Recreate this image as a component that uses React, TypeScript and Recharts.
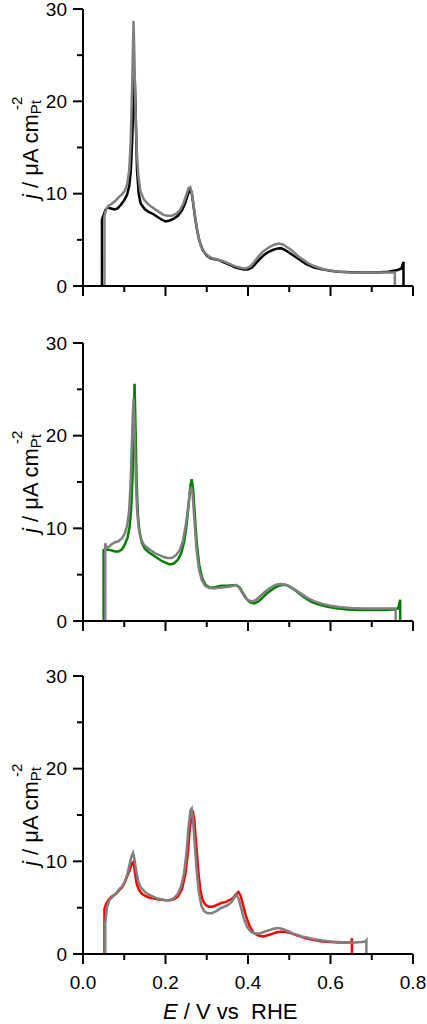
import React from 'react';
import { LineChart, Line, XAxis, YAxis } from 'recharts';

const FONT = '"Liberation Sans", Arial, Helvetica, sans-serif';

const xTicks = [0, 0.1, 0.2, 0.3, 0.4, 0.5, 0.6, 0.7, 0.8];
const yTicks = [0, 5, 10, 15, 20, 25, 30];

// [E (V vs RHE), j (µA cm-2)]
const panel1Black: [number, number][] = [
  [0.046, 0], [0.046, 7.2], [0.05, 7.7], [0.055, 8.3], [0.06, 8.5], [0.068, 8.4], [0.076, 8.3], [0.084, 8.4],
  [0.092, 8.8], [0.1, 9.3], [0.107, 9.9], [0.112, 10.8], [0.116, 12.5], [0.119, 15.5], [0.122, 19.5], [0.125, 23.2],
  [0.128, 18], [0.131, 12.5], [0.135, 10], [0.14, 8.9], [0.15, 8.3], [0.16, 8], [0.17, 7.8], [0.18, 7.5], [0.19, 7.2],
  [0.2, 7], [0.21, 7.1], [0.22, 7.3], [0.23, 7.6], [0.24, 8.2], [0.248, 9], [0.254, 9.9], [0.259, 10.4], [0.263, 10.2],
  [0.267, 9], [0.271, 7.6], [0.276, 6.2], [0.282, 4.9], [0.29, 3.9], [0.3, 3.3], [0.31, 3], [0.32, 2.9], [0.33, 2.8],
  [0.34, 2.6], [0.35, 2.4], [0.36, 2.2], [0.37, 2], [0.38, 1.9], [0.39, 1.8], [0.4, 1.8], [0.41, 2], [0.42, 2.5],
  [0.43, 3], [0.44, 3.4], [0.45, 3.7], [0.46, 3.9], [0.47, 4.05], [0.48, 4.1], [0.49, 3.9], [0.5, 3.6], [0.51, 3.3],
  [0.52, 3], [0.53, 2.7], [0.54, 2.4], [0.55, 2.2], [0.56, 2], [0.58, 1.8], [0.6, 1.65], [0.62, 1.55], [0.65, 1.5],
  [0.68, 1.45], [0.7, 1.45], [0.72, 1.5], [0.74, 1.55], [0.76, 1.7], [0.772, 1.9], [0.777, 2.6], [0.777, 0],
];

const panel1Gray: [number, number][] = [
  [0.052, 0], [0.052, 7.6], [0.056, 8.3], [0.062, 8.7], [0.07, 8.9], [0.078, 9.2], [0.086, 9.6], [0.094, 9.9],
  [0.101, 10.3], [0.107, 11], [0.112, 12.5], [0.1155, 15.5], [0.118, 19.5], [0.1205, 24.5], [0.1225, 28.7],
  [0.1245, 25], [0.127, 19.5], [0.13, 15], [0.134, 12], [0.139, 10.3], [0.147, 9.4], [0.155, 9], [0.165, 8.6],
  [0.175, 8.3], [0.185, 8], [0.195, 7.7], [0.205, 7.6], [0.215, 7.6], [0.225, 7.8], [0.235, 8.2], [0.243, 8.9],
  [0.25, 9.8], [0.256, 10.6], [0.26, 10.7], [0.264, 10.1], [0.268, 8.8], [0.273, 7.2], [0.279, 5.5], [0.286, 4.3],
  [0.295, 3.6], [0.305, 3.2], [0.315, 3], [0.325, 2.9], [0.335, 2.75], [0.345, 2.6], [0.355, 2.4], [0.365, 2.2],
  [0.375, 2.05], [0.385, 1.95], [0.395, 1.9], [0.405, 2.1], [0.415, 2.6], [0.425, 3.2], [0.435, 3.7], [0.445, 4],
  [0.455, 4.3], [0.465, 4.5], [0.475, 4.6], [0.485, 4.5], [0.495, 4.2], [0.505, 3.9], [0.515, 3.5], [0.525, 3.1],
  [0.535, 2.8], [0.545, 2.5], [0.555, 2.25], [0.57, 2], [0.59, 1.75], [0.61, 1.6], [0.64, 1.5], [0.67, 1.45],
  [0.7, 1.45], [0.73, 1.45], [0.756, 1.45], [0.756, 0],
];

const panel2Green: [number, number][] = [
  [0.05, 0], [0.05, 7.65], [0.055, 7.7], [0.062, 7.7], [0.07, 7.6], [0.078, 7.5], [0.086, 7.5], [0.094, 7.7],
  [0.101, 8.2], [0.108, 9], [0.113, 10.2], [0.117, 12.2], [0.12, 15.5], [0.1225, 20], [0.125, 25.6], [0.1275, 20.5],
  [0.13, 15], [0.133, 11.5], [0.137, 9.6], [0.143, 8.4], [0.15, 7.8], [0.16, 7.4], [0.17, 7.1], [0.18, 6.8],
  [0.19, 6.5], [0.2, 6.3], [0.21, 6.1], [0.22, 6.2], [0.23, 6.6], [0.238, 7.3], [0.245, 8.5], [0.251, 10.3],
  [0.256, 12.5], [0.26, 14.5], [0.2635, 15.3], [0.267, 14.2], [0.271, 11.5], [0.276, 8.3], [0.282, 6], [0.289, 4.6],
  [0.297, 3.9], [0.307, 3.6], [0.32, 3.65], [0.335, 3.8], [0.35, 3.8], [0.362, 3.85], [0.372, 3.85], [0.38, 3.6],
  [0.388, 3], [0.396, 2.4], [0.405, 2], [0.415, 1.9], [0.425, 2.1], [0.435, 2.5], [0.445, 2.95], [0.455, 3.3],
  [0.465, 3.6], [0.475, 3.8], [0.485, 3.9], [0.495, 3.85], [0.505, 3.6], [0.515, 3.3], [0.525, 2.95], [0.535, 2.6],
  [0.545, 2.3], [0.555, 2.05], [0.57, 1.8], [0.59, 1.55], [0.61, 1.4], [0.64, 1.25], [0.67, 1.2], [0.7, 1.2],
  [0.73, 1.2], [0.755, 1.25], [0.764, 1.35], [0.769, 2.3], [0.769, 0],
];

const panel2Gray: [number, number][] = [
  [0.054, 0], [0.054, 8.4], [0.057, 7.9], [0.062, 8], [0.07, 8.3], [0.078, 8.5], [0.086, 8.6], [0.094, 8.9],
  [0.101, 9.4], [0.107, 10.3], [0.112, 12], [0.1155, 15], [0.118, 18.5], [0.1205, 22], [0.1227, 24], [0.125, 21],
  [0.128, 15.5], [0.131, 12], [0.135, 10], [0.141, 8.8], [0.148, 8.2], [0.156, 7.9], [0.165, 7.6], [0.175, 7.3],
  [0.185, 7.1], [0.195, 6.9], [0.205, 6.8], [0.215, 6.8], [0.225, 7.1], [0.234, 7.6], [0.242, 8.6], [0.249, 10.3],
  [0.254, 12], [0.2585, 13.8], [0.2625, 14.5], [0.266, 13.5], [0.27, 11], [0.275, 7.8], [0.281, 5.6], [0.288, 4.4],
  [0.296, 3.8], [0.306, 3.55], [0.318, 3.5], [0.33, 3.6], [0.342, 3.65], [0.354, 3.7], [0.364, 3.8], [0.371, 3.9],
  [0.377, 3.7], [0.384, 3.2], [0.392, 2.6], [0.4, 2.25], [0.41, 2.1], [0.42, 2.3], [0.43, 2.7], [0.44, 3.1],
  [0.45, 3.45], [0.46, 3.75], [0.47, 3.95], [0.48, 4], [0.49, 3.95], [0.5, 3.75], [0.51, 3.5], [0.52, 3.2],
  [0.53, 2.9], [0.54, 2.6], [0.55, 2.35], [0.56, 2.15], [0.58, 1.85], [0.6, 1.65], [0.62, 1.5], [0.65, 1.4],
  [0.68, 1.35], [0.71, 1.35], [0.74, 1.35], [0.758, 1.35], [0.758, 0],
];

const panel3Red: [number, number][] = [
  [0.052, 0], [0.052, 4.9], [0.056, 5.4], [0.063, 5.9], [0.07, 6.2], [0.08, 6.5], [0.088, 6.9], [0.095, 7.2],
  [0.102, 7.8], [0.108, 8.5], [0.114, 9.2], [0.119, 9.8], [0.1225, 9.95], [0.126, 8.8], [0.13, 7.6], [0.136, 6.9],
  [0.143, 6.5], [0.15, 6.3], [0.16, 6.1], [0.17, 6], [0.18, 5.9], [0.19, 5.85], [0.2, 5.8], [0.21, 5.8], [0.22, 5.9],
  [0.23, 6.2], [0.24, 7], [0.248, 8.6], [0.254, 10.8], [0.259, 13.5], [0.263, 15], [0.266, 15.5], [0.27, 14.4],
  [0.275, 11.5], [0.28, 8.7], [0.285, 6.8], [0.29, 5.8], [0.297, 5.3], [0.305, 5.1], [0.315, 5.1], [0.325, 5.3],
  [0.335, 5.5], [0.345, 5.6], [0.355, 5.8], [0.363, 6], [0.37, 6.4], [0.377, 6.7], [0.382, 6.3], [0.388, 5.3],
  [0.395, 4.1], [0.403, 3.1], [0.413, 2.3], [0.425, 2], [0.437, 1.9], [0.45, 2.05], [0.46, 2.2], [0.47, 2.35],
  [0.48, 2.4], [0.49, 2.4], [0.5, 2.3], [0.51, 2.15], [0.52, 2], [0.53, 1.85], [0.54, 1.7], [0.56, 1.5], [0.58, 1.35],
  [0.6, 1.3], [0.62, 1.25], [0.64, 1.25], [0.651, 1.3], [0.652, 1.7], [0.652, 0],
];

const panel3Gray: [number, number][] = [
  [0.054, 0], [0.054, 3.3], [0.058, 5], [0.064, 5.8], [0.072, 6.2], [0.08, 6.5], [0.088, 7], [0.095, 7.3],
  [0.102, 7.9], [0.108, 8.7], [0.113, 9.7], [0.118, 10.6], [0.1215, 10.9], [0.125, 10.2], [0.129, 9], [0.134, 7.8],
  [0.14, 7.2], [0.15, 6.7], [0.16, 6.4], [0.17, 6.2], [0.18, 6], [0.19, 5.9], [0.2, 5.8], [0.21, 5.8], [0.22, 6],
  [0.23, 6.5], [0.238, 7.3], [0.245, 8.7], [0.251, 11], [0.256, 13.8], [0.2605, 15.5], [0.2635, 15.7], [0.267, 14.2],
  [0.271, 11.8], [0.276, 8.8], [0.281, 6.6], [0.287, 5.2], [0.294, 4.6], [0.302, 4.4], [0.312, 4.4], [0.322, 4.6],
  [0.332, 4.9], [0.342, 5.1], [0.352, 5.3], [0.36, 5.6], [0.367, 6.1], [0.372, 6.4], [0.377, 6], [0.383, 5],
  [0.39, 3.8], [0.398, 2.9], [0.407, 2.4], [0.417, 2.2], [0.43, 2.25], [0.44, 2.4], [0.45, 2.55], [0.46, 2.7],
  [0.47, 2.8], [0.48, 2.75], [0.49, 2.6], [0.5, 2.4], [0.51, 2.2], [0.52, 2.05], [0.53, 1.9], [0.54, 1.8], [0.56, 1.6],
  [0.58, 1.45], [0.6, 1.35], [0.62, 1.3], [0.64, 1.25], [0.66, 1.25], [0.675, 1.3], [0.684, 1.35], [0.687, 1.5],
  [0.687, 0],
];

const toRows = (pts: [number, number][]) => pts.map(([E, j]) => ({ E, j }));

const XTick = (showLabel: boolean) => (props: any) => {
  const { x, y, payload } = props;
  const v = payload.value as number;
  const major = Math.round(v * 10) % 2 === 0;
  return (
    <g>
      <line x1={x} y1={y} x2={x} y2={y + (major ? 10 : 6)} stroke="#000" strokeWidth={2} />
      {showLabel && major ? (
        <text x={x} y={y + 35} textAnchor="middle" fontFamily={FONT} fontSize={19} fill="#000">
          {v.toFixed(1)}
        </text>
      ) : null}
    </g>
  );
};

const YTick = (props: any) => {
  const { x, y, payload } = props;
  const v = payload.value as number;
  const major = v % 10 === 0;
  return (
    <g>
      <line x1={x} y1={y} x2={x - (major ? 10 : 6)} y2={y} stroke="#000" strokeWidth={2} />
      {major ? (
        <text x={x - 16} y={y + 6.5} textAnchor="end" fontFamily={FONT} fontSize={19} fill="#000">
          {v}
        </text>
      ) : null}
    </g>
  );
};

const YTitle = (top: number) => () => (
  <text transform={`translate(38, ${top + 190}) rotate(-90)`} fontFamily={FONT} fontSize={22} fill="#000">
    <tspan fontStyle="italic">j</tspan>
    <tspan>{' / \u03BCA cm'}</tspan>
    <tspan fontSize={15} dy={3}>Pt</tspan>
    <tspan fontSize={15} dx={-10} dy={-19}>-2</tspan>
  </text>
);

const XTitle = (axisY: number) => () => (
  <text x={163} y={axisY + 65} fontFamily={FONT} fontSize={22} fill="#000">
    <tspan fontStyle="italic">E</tspan>
    <tspan>{' / V vs\u00A0 RHE'}</tspan>
  </text>
);

type Series = { name: string; pts: [number, number][]; color: string };

function Panel(props: { height: number; top: number; axisH: number; series: Series[]; showX: boolean }) {
  const { height, top, axisH, series, showX } = props;
  const axisY = height - axisH;
  return (
    <LineChart
      width={427}
      height={height}
      margin={{ top, right: 14, bottom: 0, left: 0 }}
      style={{ display: 'block' }}
    >
      <XAxis
        type="number"
        dataKey="E"
        domain={[0, 0.8]}
        ticks={xTicks}
        interval={0}
        allowDataOverflow
        height={axisH}
        tickSize={0}
        tickMargin={0}
        tickLine={false}
        axisLine={{ stroke: '#000', strokeWidth: 2 }}
        tick={XTick(showX)}
        label={showX ? { content: XTitle(axisY) } : undefined}
      />
      <YAxis
        type="number"
        domain={[0, 30]}
        ticks={yTicks}
        interval={0}
        allowDataOverflow
        width={83}
        tickSize={0}
        tickMargin={0}
        tickLine={false}
        axisLine={{ stroke: '#000', strokeWidth: 2 }}
        tick={YTick}
        label={{ content: YTitle(top) }}
      />
      {series.map((s) => (
        <Line
          key={s.name}
          name={s.name}
          data={toRows(s.pts)}
          dataKey="j"
          type="linear"
          stroke={s.color}
          strokeWidth={2.5}
          dot={false}
          activeDot={false}
          isAnimationActive={false}
        />
      ))}
    </LineChart>
  );
}

export default function App() {
  return (
    <div style={{ position: 'absolute', left: 0, top: 0, width: 427, height: 1024, background: '#fff' }}>
      <Panel
        height={320}
        top={9}
        axisH={34}
        showX={false}
        series={[
          { name: 'black', pts: panel1Black, color: '#000000' },
          { name: 'gray', pts: panel1Gray, color: '#808080' },
        ]}
      />
      <Panel
        height={340}
        top={23}
        axisH={39}
        showX={false}
        series={[
          { name: 'green', pts: panel2Green, color: '#008000' },
          { name: 'gray', pts: panel2Gray, color: '#808080' },
        ]}
      />
      <Panel
        height={364}
        top={16}
        axisH={70}
        showX={true}
        series={[
          { name: 'red', pts: panel3Red, color: '#ff0000' },
          { name: 'gray', pts: panel3Gray, color: '#808080' },
        ]}
      />
    </div>
  );
}
